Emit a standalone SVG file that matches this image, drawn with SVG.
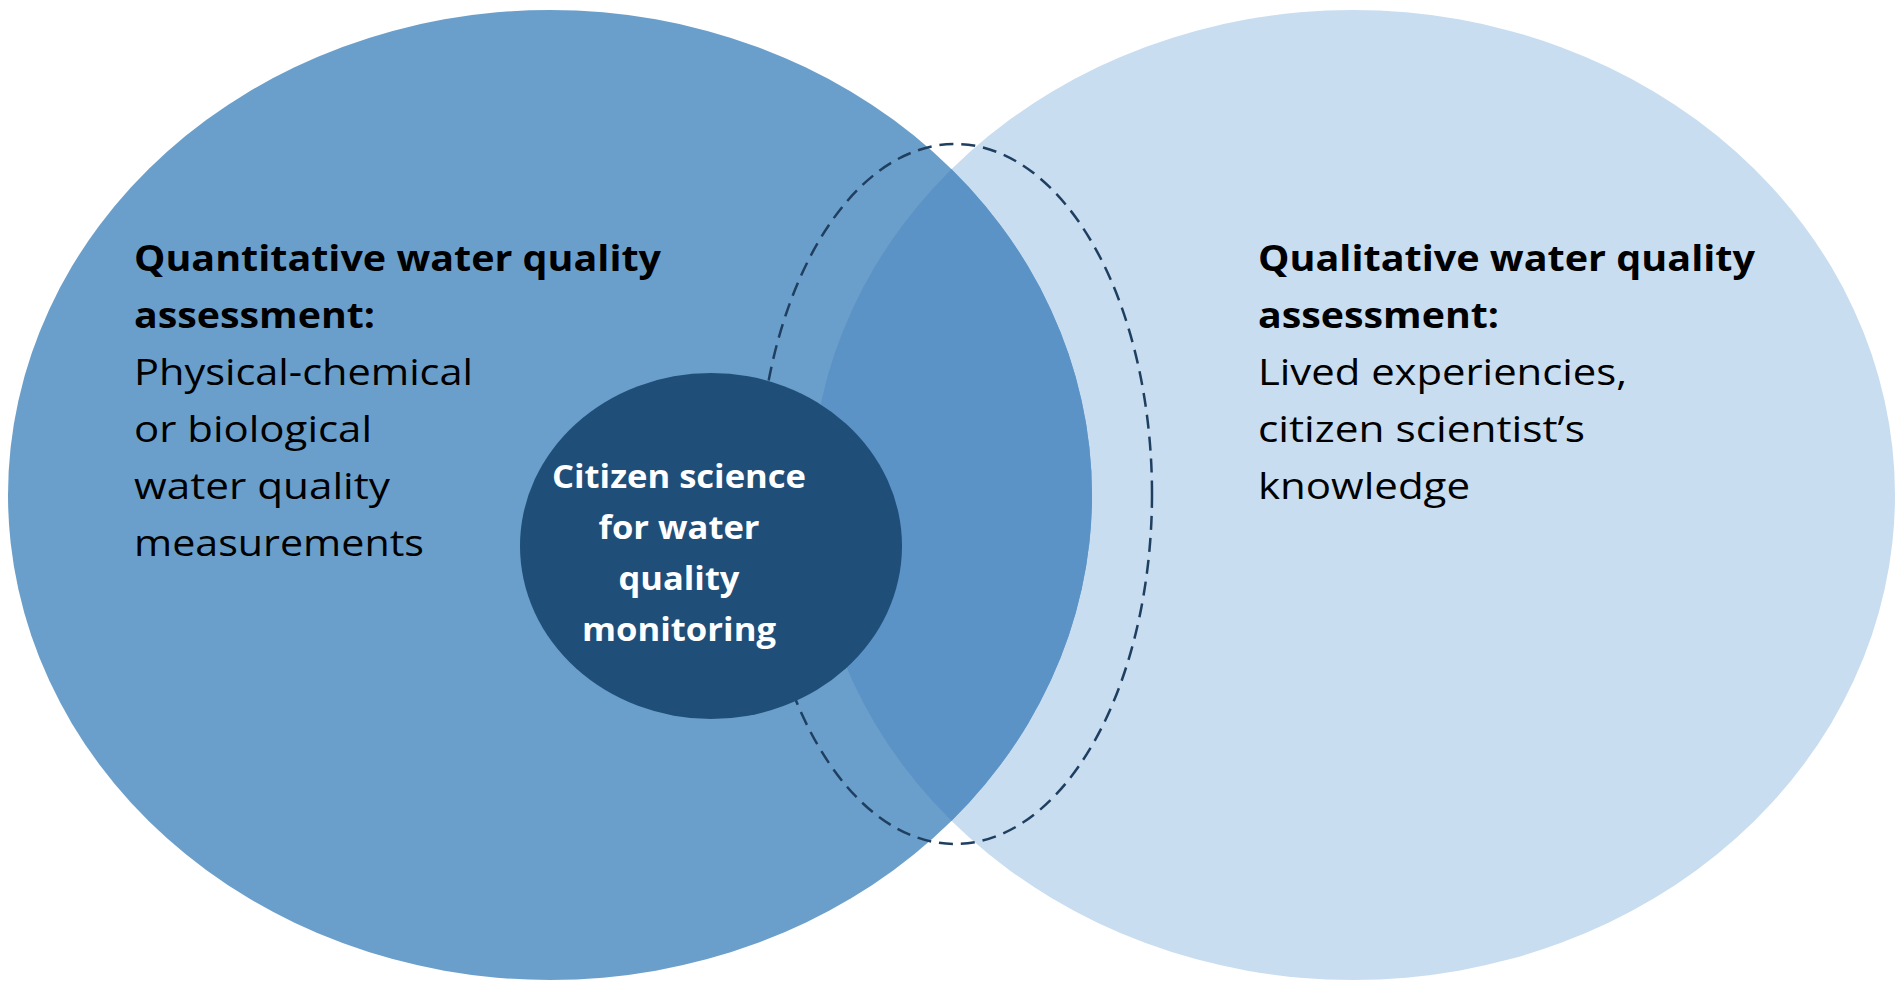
<svg xmlns="http://www.w3.org/2000/svg" width="1902" height="1003" viewBox="0 0 1902 1003">
<style>
text{font-family:"Open Sans","Noto Sans","Liberation Sans",sans-serif;font-size:36px;fill:#000}
.b{font-weight:bold}
.c{fill:#fff;font-weight:bold;font-size:33px;text-anchor:middle}
</style>
<defs><clipPath id="cl"><ellipse cx="550" cy="495" rx="542" ry="485"/></clipPath></defs>
<rect width="1902" height="1003" fill="#fff"/>
<g id="right"><ellipse cx="1353" cy="495" rx="542" ry="485" fill="#C9DDF0"/></g>
<g id="left"><ellipse cx="550" cy="495" rx="542" ry="485" fill="#6B9FCB"/>
<ellipse cx="1353" cy="495" rx="542" ry="485" fill="#5C93C6" clip-path="url(#cl)"/></g>
<g id="connectors"><ellipse cx="955" cy="494" rx="197" ry="350" fill="none" stroke="#1F3F60" stroke-width="2.5" stroke-dasharray="14 8"/></g>
<g id="center"><ellipse cx="711" cy="546" rx="191" ry="173" fill="#1F4E79"/>
<text class="c" x="679" y="488" textLength="254" lengthAdjust="spacingAndGlyphs">Citizen science</text>
<text class="c" x="679" y="539" textLength="161" lengthAdjust="spacingAndGlyphs">for water</text>
<text class="c" x="679" y="590" textLength="121" lengthAdjust="spacingAndGlyphs">quality</text>
<text class="c" x="679" y="641" textLength="194" lengthAdjust="spacingAndGlyphs">monitoring</text></g>
<g id="leftText">
<text class="b" x="134" y="271" textLength="527" lengthAdjust="spacingAndGlyphs">Quantitative water quality</text>
<text class="b" x="134" y="328" textLength="241" lengthAdjust="spacingAndGlyphs">assessment:</text>
<text x="134" y="385" textLength="339" lengthAdjust="spacingAndGlyphs">Physical-chemical</text>
<text x="134" y="442" textLength="238" lengthAdjust="spacingAndGlyphs">or biological</text>
<text x="134" y="499" textLength="256" lengthAdjust="spacingAndGlyphs">water quality</text>
<text x="134" y="556" textLength="290" lengthAdjust="spacingAndGlyphs">measurements</text></g>
<g id="rightText">
<text class="b" x="1258" y="271" textLength="497" lengthAdjust="spacingAndGlyphs">Qualitative water quality</text>
<text class="b" x="1258" y="328" textLength="241" lengthAdjust="spacingAndGlyphs">assessment:</text>
<text x="1258" y="385" textLength="369" lengthAdjust="spacingAndGlyphs">Lived experiencies,</text>
<text x="1258" y="442" textLength="327" lengthAdjust="spacingAndGlyphs">citizen scientist’s</text>
<text x="1258" y="499" textLength="212" lengthAdjust="spacingAndGlyphs">knowledge</text></g>
</svg>
